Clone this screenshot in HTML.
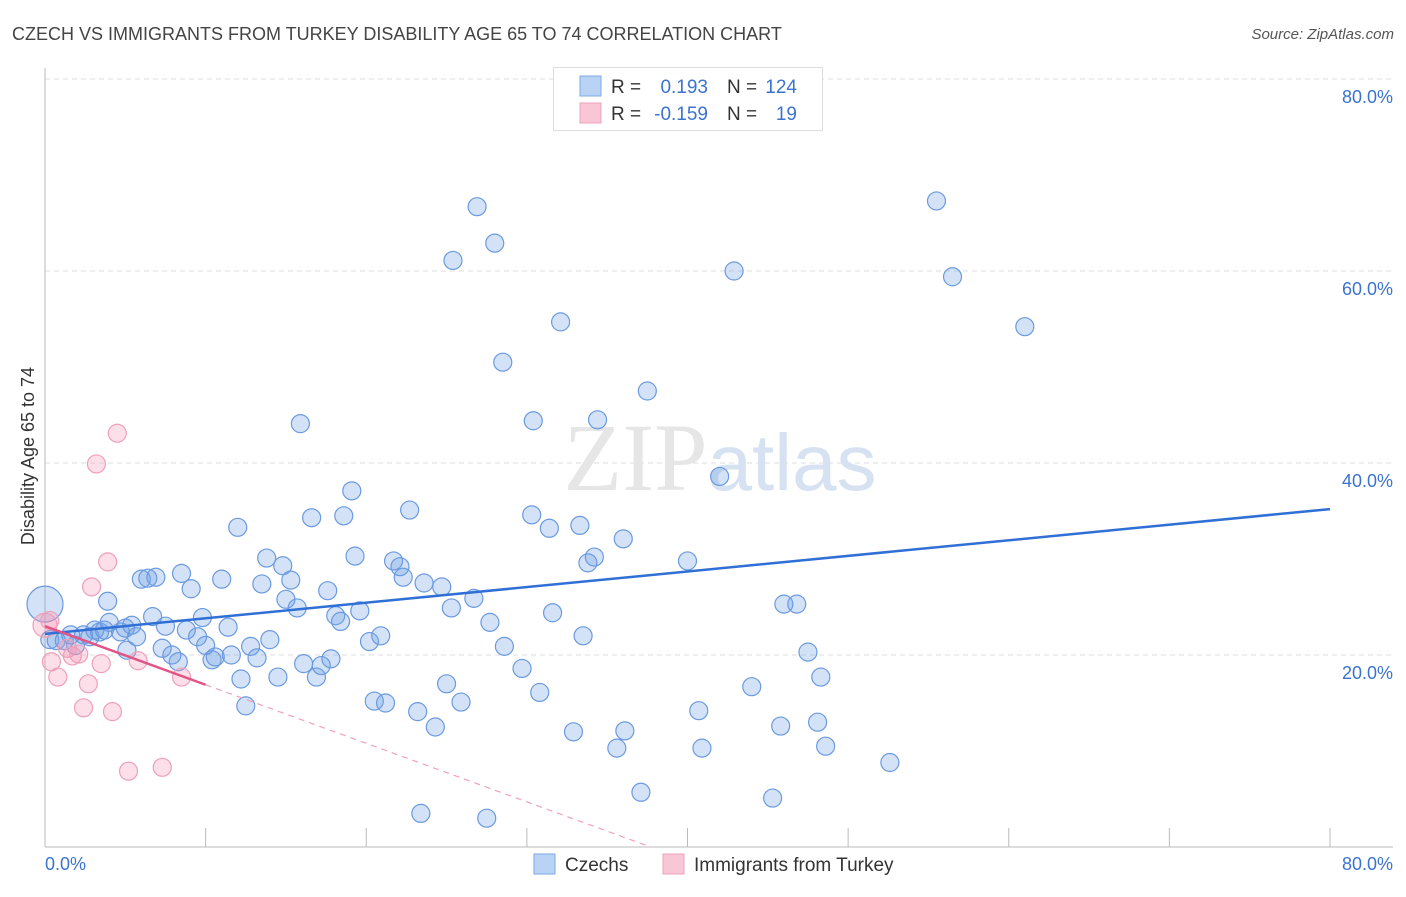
<!DOCTYPE html>
<html><head><meta charset="utf-8"><style>
body{margin:0;background:#fff;font-family:"Liberation Sans",sans-serif;}
svg text{font-family:"Liberation Sans",sans-serif;}
</style></head><body>
<svg id="chart" width="1406" height="892" viewBox="0 0 1406 892" xmlns="http://www.w3.org/2000/svg">
<text x="12" y="40" font-size="18" fill="#444">CZECH VS IMMIGRANTS FROM TURKEY DISABILITY AGE 65 TO 74 CORRELATION CHART</text>
<text x="1394" y="39" font-size="15" fill="#555" font-style="italic" text-anchor="end">Source: ZipAtlas.com</text>
<g id="grid"></g>
<text x="720" y="490" font-size="96" text-anchor="middle" fill="#e6e6e6" font-family="Liberation Serif"><tspan font-family="Liberation Serif">ZIP</tspan><tspan font-family="Liberation Sans" fill="#d6e2f2" font-size="80">atlas</tspan></text>
<line x1="45" y1="847" x2="1393" y2="847" stroke="#bbb"/>
<line x1="45" y1="68" x2="45" y2="847" stroke="#bbb"/>
<text transform="translate(34,456) rotate(-90)" font-size="18" fill="#333" text-anchor="middle">Disability Age 65 to 74</text>
<text x="45" y="870" font-size="18" fill="#3b73d0">0.0%</text>
<text x="1393" y="870" font-size="18" fill="#3b73d0" text-anchor="end">80.0%</text>
<g id="marks"></g>
<g>
<rect x="553.5" y="67.5" width="269" height="63" fill="#fff" stroke="#ddd"/>
<rect x="580" y="76" width="21" height="20" fill="#b9d3f5" stroke="#7fa8e3"/>
<rect x="580" y="103" width="21" height="20" fill="#f9c6d6" stroke="#eea3bb"/>
<text x="611" y="93" font-size="19" fill="#333">R = </text><text x="708" y="93" font-size="19" fill="#3b73d0" text-anchor="end">0.193</text>
<text x="727" y="93" font-size="19" fill="#333">N = </text><text x="797" y="93" font-size="19" fill="#3b73d0" text-anchor="end">124</text>
<text x="611" y="120" font-size="19" fill="#333">R = </text><text x="708" y="120" font-size="19" fill="#3b73d0" text-anchor="end">-0.159</text>
<text x="727" y="120" font-size="19" fill="#333">N = </text><text x="797" y="120" font-size="19" fill="#3b73d0" text-anchor="end">19</text>
</g>
<g>
<rect x="534" y="854" width="21" height="20" fill="#b9d3f5" stroke="#7fa8e3"/>
<text x="565" y="871" font-size="19" fill="#333">Czechs</text>
<rect x="663" y="854" width="21" height="20" fill="#f9c6d6" stroke="#eea3bb"/>
<text x="694" y="871" font-size="19" fill="#333">Immigrants from Turkey</text>
</g>
</svg>
<script>
const czechX=[0,0.3,0.7,1.2,1.9,1.6,2.4,2.8,3.1,3.4,4.0,3.7,4.7,5.0,5.4,5.7,3.9,5.1,6.0,6.4,6.9,6.7,7.5,7.3,7.9,8.3,8.5,8.8,9.1,9.5,9.8,10.0,10.4,10.6,11.0,11.4,11.6,12.0,12.2,12.5,12.8,13.2,13.5,13.8,14.0,14.5,14.8,15.0,15.3,15.7,15.9,16.1,16.6,16.9,17.2,17.6,17.8,18.1,18.4,18.6,19.1,19.3,19.6,20.2,20.5,20.9,21.2,21.7,22.1,22.3,22.7,23.2,23.6,24.3,24.7,25.0,25.3,25.4,25.9,26.7,26.9,27.5,27.7,28.0,28.5,28.6,29.7,30.3,30.4,30.8,31.4,31.6,32.1,32.9,33.3,33.5,33.8,34.2,34.4,35.6,36.0,36.1,37.1,37.5,40.0,40.7,40.9,42.0,42.9,44.0,45.3,45.8,46.0,46.8,47.5,48.1,48.3,48.6,52.6,55.5,56.5,61.0,23.4];
const czechY=[25.3,21.6,21.5,21.5,21.0,22.1,22.1,21.9,22.6,22.4,23.4,22.6,22.4,22.8,23.1,21.9,25.6,20.5,27.9,28.0,28.1,24.0,23.0,20.7,20.0,19.3,28.5,22.6,26.9,21.9,23.9,21.0,19.5,19.8,27.9,22.9,20.0,33.3,17.5,14.7,20.9,19.7,27.4,30.1,21.6,17.7,29.3,25.8,27.8,24.9,44.1,19.1,34.3,17.7,18.9,26.7,19.6,24.1,23.5,34.5,37.1,30.3,24.6,21.4,15.2,22.0,15.0,29.8,29.2,28.1,35.1,14.1,27.5,12.5,27.1,17.0,24.9,61.1,15.1,25.9,66.7,3.0,23.4,62.9,50.5,20.9,18.6,34.6,44.4,16.1,33.2,24.4,54.7,12.0,33.5,22.0,29.6,30.2,44.5,10.3,32.1,12.1,5.7,47.5,29.8,14.2,10.3,38.6,60.0,16.7,5.1,12.6,25.3,25.3,20.3,13.0,17.7,10.5,8.8,67.3,59.4,54.2,3.5];
const turkX=[0,0.3,0.4,0.8,1.4,1.7,2.1,2.4,2.7,2.9,3.2,3.5,3.9,4.2,4.5,5.2,5.8,7.3,8.5];
const turkY=[23.1,23.6,19.3,17.7,20.7,19.9,20.1,14.5,17.0,27.1,39.9,19.1,29.7,14.1,43.1,7.9,19.4,8.3,17.7];
const yTicks=[20,40,60,80];
const yTickLabels=["20.0%","40.0%","60.0%","80.0%"];
const xTicks=[0,10,20,30,40,50,60,70,80];
const czechTrend=[22.2,35.2];   // y at x=0 and x=80
const turkTrend=[23.0,-0.61];   // intercept, slope
const turkSolidEnd=10;

const NS="http://www.w3.org/2000/svg";
const sx=v=>45+v*16.0625;
const sy=v=>847-v*9.6;
function mk(tag,attrs,parent){const e=document.createElementNS(NS,tag);for(const k in attrs)e.setAttribute(k,attrs[k]);parent.appendChild(e);return e;}
const grid=document.getElementById('grid');
yTicks.forEach((t,i)=>{
  const l=mk('line',{x1:45,x2:1393,y1:sy(t),y2:sy(t),stroke:'#ddd','stroke-dasharray':'5,4'},grid);
  
  
  const tx=mk('text',{x:1393,y:sy(t)+24,'font-size':18,fill:'#3b73d0','text-anchor':'end'},grid);
  tx.textContent=yTickLabels[i];
  
  
});
xTicks.forEach(t=>{
  if(t===0)return;
  const l=mk('line',{x1:sx(t),x2:sx(t),y1:828,y2:847,stroke:'#bbb'},grid);
  
  
});
const marks=document.getElementById('marks');
czechX.forEach((x,i)=>{
  const c=mk('circle',{cx:sx(x),cy:sy(czechY[i]),r:i===0?18:9,fill:'rgba(110,160,230,0.3)',stroke:'#6b9ae0','stroke-width':1.2},marks);
  
  
});
turkX.forEach((x,i)=>{
  const c=mk('circle',{cx:sx(x),cy:sy(turkY[i]),r:i===0?12:9,fill:'rgba(245,150,180,0.3)',stroke:'#eea0ba','stroke-width':1.2},marks);
  
  
});
const bl=mk('line',{x1:sx(0),y1:sy(czechTrend[0]),x2:sx(80),y2:sy(czechTrend[1]),stroke:'#2f6fd6','stroke-width':2.5},marks);


const pe=-turkTrend[0]/turkTrend[1];
const pd=mk('line',{x1:sx(turkSolidEnd),y1:sy(turkTrend[0]+turkTrend[1]*turkSolidEnd),x2:sx(pe),y2:sy(0),stroke:'#f0a0bc','stroke-width':1.2,'stroke-dasharray':'6,5'},marks);


const ps=mk('line',{x1:sx(0),y1:sy(turkTrend[0]),x2:sx(turkSolidEnd),y2:sy(turkTrend[0]+turkTrend[1]*turkSolidEnd),stroke:'#e05585','stroke-width':2.5},marks);


</script>
</body></html>
